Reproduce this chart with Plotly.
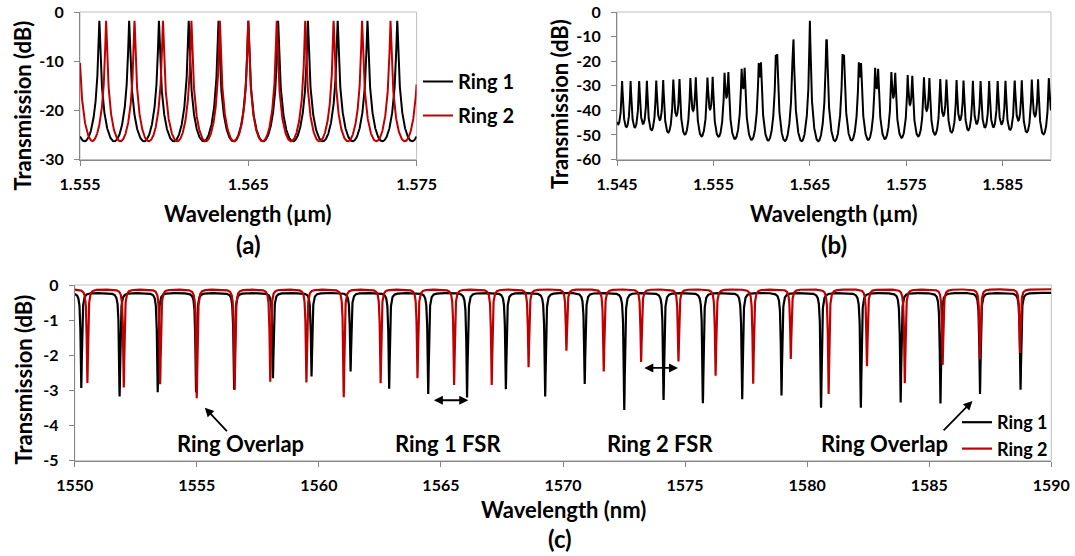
import numpy as np
import plotly.graph_objects as go

W, H = 1075, 556
FONT = "Lato"
BLACK = "#000000"
RED = "#C00000"
AXIS_GRAY = "#868686"
BOX_GRAY = "#BFBFBF"

# ---------------- data ----------------
# (a)/(b): drop-port resonance wavelengths of each ring (um)
RING1_RES_UM = [1.54376, 1.54553, 1.54730, 1.54907, 1.55084, 1.55261, 1.55438,
                1.55615, 1.55792, 1.55969, 1.56146, 1.56323, 1.56500, 1.56677,
                1.56854, 1.57031, 1.57208, 1.57385, 1.57562, 1.57739, 1.57916,
                1.58093, 1.58270, 1.58447, 1.58624, 1.58801, 1.58978, 1.59155]
RING2_RES_UM = [1.54303, 1.54472, 1.54641, 1.54810, 1.54979, 1.55148, 1.55317,
                1.55492, 1.55655, 1.55824, 1.55993, 1.56162, 1.56331, 1.56500,
                1.56669, 1.56838, 1.57007, 1.57176, 1.57345, 1.57514, 1.57683,
                1.57852, 1.58021, 1.58190, 1.58359, 1.58528, 1.58697, 1.58866,
                1.59035]
PEAK_DB = -1.8      # resonance peak level (dB)
FLOOR_DB = -26.3    # off-resonance floor (dB)

# (c): measured through-port dips (nm) and their depths (dB)
RING1_DIPS_NM = [1550.27, 1551.84, 1553.40, 1554.97, 1556.53, 1558.12, 1559.70,
                 1561.30, 1562.88, 1564.48, 1566.07, 1567.66, 1569.27, 1570.89,
                 1572.51, 1574.12, 1575.73, 1577.34, 1578.95, 1580.57, 1582.20,
                 1583.83, 1585.46, 1587.08, 1588.74]
RING1_DEPTH_DB = [-2.93, -3.17, -3.05, -3.05, -2.98, -2.65, -2.60,
                  -2.46, -2.95, -3.10, -3.20, -2.96, -3.17, -2.81,
                  -3.55, -3.27, -3.36, -3.25, -3.14, -3.49, -3.49,
                  -3.34, -3.37, -3.10, -2.98]
RING2_DIPS_NM = [1550.52, 1552.01, 1553.50, 1555.00, 1556.55, 1558.01, 1559.49,
                 1561.02, 1562.53, 1564.04, 1565.54, 1567.08, 1568.59, 1570.14,
                 1571.67, 1573.20, 1574.73, 1576.25, 1577.79, 1579.33, 1580.88,
                 1582.45, 1584.00, 1585.55, 1587.08, 1588.72]
RING2_DEPTH_DB = [-2.79, -2.91, -2.82, -3.22, -2.98, -2.75, -2.77,
                  -3.19, -2.79, -2.65, -2.84, -2.84, -2.34, -1.87,
                  -2.46, -2.19, -2.17, -2.58, -2.81, -2.10, -3.10,
                  -2.31, -2.79, -2.27, -2.12, -1.93]
RING1_BASE_DB = -0.22
RING2_BASE_DB = -0.12
DIP_HWHM_NM = 0.03

X_TICKS_A = [1.555, 1.565, 1.575]
X_TICKS_B = [1.545, 1.555, 1.565, 1.575, 1.585]
X_TICKS_C = [1550, 1555, 1560, 1565, 1570, 1575, 1580, 1585, 1590]
Y_TICKS_A = [0, -10, -20, -30]
Y_TICKS_B = [0, -10, -20, -30, -40, -50, -60]
Y_TICKS_C = [0, -1, -2, -3, -4, -5]


# ---------------- line shapes ----------------
def drop_port_db(lam, res):
    res = np.asarray(res)
    fsr = np.mean(np.diff(res))
    idx = np.abs(lam[:, None] - res[None, :]).argmin(axis=1)
    d = lam - res[idx]
    F = 10 ** ((PEAK_DB - FLOOR_DB) / 10) - 1
    return PEAK_DB - 10 * np.log10(1 + F * np.sin(np.pi * d / fsr) ** 2)


def through_port_db(lam, centers, depths, base):
    y = np.full_like(lam, base)
    for c, dep in zip(centers, depths):
        y += (dep - base) * DIP_HWHM_NM ** 2 / ((lam - c) ** 2 + DIP_HWHM_NM ** 2)
    return y


def grid(a, b, n, extra):
    g = np.linspace(a, b, n)
    e = np.asarray([v for v in extra if a <= v <= b])
    return np.unique(np.concatenate([g, e]))


lam_a = grid(1.555, 1.575, 4001, RING1_RES_UM + RING2_RES_UM)
lam_b = grid(1.545, 1.590, 9001, RING1_RES_UM + RING2_RES_UM)
lam_c = grid(1550, 1590, 10001, RING1_DIPS_NM + RING2_DIPS_NM)

a1 = drop_port_db(lam_a, RING1_RES_UM)
a2 = drop_port_db(lam_a, RING2_RES_UM)
b = drop_port_db(lam_b, RING1_RES_UM) + drop_port_db(lam_b, RING2_RES_UM)
c1 = through_port_db(lam_c, RING1_DIPS_NM, RING1_DEPTH_DB, RING1_BASE_DB)
c2 = through_port_db(lam_c, RING2_DIPS_NM, RING2_DEPTH_DB, RING2_BASE_DB)

fig = go.Figure()
fig.add_trace(go.Scatter(x=lam_a, y=a1, mode="lines", name="Ring 1",
                         line=dict(color=BLACK, width=2), xaxis="x", yaxis="y",
                         legend="legend", legendgroup="a1"))
fig.add_trace(go.Scatter(x=lam_a, y=a2, mode="lines", name="Ring 2",
                         line=dict(color=RED, width=2), xaxis="x", yaxis="y",
                         legend="legend", legendgroup="a2"))
fig.add_trace(go.Scatter(x=lam_b, y=b, mode="lines", name="Cascade",
                         line=dict(color=BLACK, width=2), xaxis="x2", yaxis="y2",
                         showlegend=False))
fig.add_trace(go.Scatter(x=lam_c, y=c1, mode="lines", name="Ring 1",
                         line=dict(color=BLACK, width=2.2), xaxis="x3", yaxis="y3",
                         legend="legend2", legendgroup="c1"))
fig.add_trace(go.Scatter(x=lam_c, y=c2, mode="lines", name="Ring 2",
                         line=dict(color=RED, width=2.2), xaxis="x3", yaxis="y3",
                         legend="legend2", legendgroup="c2"))

tickfont = dict(family=FONT, size=16, color="black", weight="bold")


def xa(dom, rng, ticks, fmt, anchor):
    return dict(domain=dom, range=rng, anchor=anchor, showline=True, linecolor=AXIS_GRAY,
                linewidth=1, ticks="outside", ticklen=5, tickcolor=AXIS_GRAY,
                showgrid=False, zeroline=False, tickvals=ticks, automargin=False,
                ticktext=[fmt.format(t) for t in ticks], tickfont=tickfont,
                ticklabelstandoff=5)


def ya(dom, rng, ticks, anchor):
    return dict(domain=dom, range=rng, anchor=anchor, showline=True, linecolor=AXIS_GRAY,
                linewidth=1, ticks="outside", ticklen=5, tickcolor=AXIS_GRAY,
                showgrid=False, zeroline=False, tickvals=ticks, automargin=False,
                ticktext=[str(t) for t in ticks], tickfont=tickfont,
                ticklabelstandoff=7)


ya_dom = [1 - 159.5 / H, 1 - 12 / H]
fig.update_layout(
    width=W, height=H, margin=dict(l=0, r=0, t=0, b=0, autoexpand=False), autosize=False,
    paper_bgcolor="white", plot_bgcolor="white",
    font=dict(family=FONT, color="black"),
    xaxis=xa([80 / W, 416.6 / W], [1.555, 1.575], X_TICKS_A, "{:.3f}", "y"),
    yaxis=ya(ya_dom, [-30, 0], Y_TICKS_A, "x"),
    xaxis2=xa([617 / W, 1051 / W], [1.545, 1.590], X_TICKS_B, "{:.3f}", "y2"),
    yaxis2=ya(ya_dom, [-60, 0], Y_TICKS_B, "x2"),
    xaxis3=xa([74.7 / W, 1051.3 / W], [1550, 1590], X_TICKS_C, "{:d}", "y3"),
    yaxis3=ya([1 - 460.7 / H, 1 - 285 / H], [-5, 0], Y_TICKS_C, "x3"),
    legend=dict(x=418 / W, y=1 - 62 / H, xanchor="left", yanchor="top",
                bgcolor="rgba(0,0,0,0)", tracegroupgap=5,
                font=dict(family=FONT, size=20, color="black", weight="bold")),
    legend2=dict(x=957 / W, y=1 - 404 / H, xanchor="left", yanchor="top",
                 bgcolor="rgba(0,0,0,0)", tracegroupgap=0,
                 font=dict(family=FONT, size=18, color="black", weight="bold")),
)

shapes = []
for xr, yr in [("x", "y"), ("x2", "y2"), ("x3", "y3")]:
    shapes.append(dict(type="rect", xref=xr + " domain", yref=yr + " domain",
                       x0=0, x1=1, y0=0, y1=1, line=dict(color=BOX_GRAY, width=1),
                       layer="below"))
fig.update_layout(shapes=shapes)


def pann(txt, x, y, size=22, angle=0):
    return dict(text=txt, x=x / W, y=1 - y / H, xref="paper", yref="paper",
                showarrow=False, textangle=angle, xanchor="center", yanchor="middle",
                font=dict(family=FONT, size=size, color="black", weight="bold"))


ann = [
    pann("Transmission (dB)", 21.5, 106, 22, -90),
    pann("Transmission (dB)", 560, 104, 22, -90),
    pann("Transmission (dB)", 22.5, 380, 22, -90),
    pann("Wavelength (µm)", 248.3, 213, 22),
    pann("Wavelength (µm)", 834, 213, 22),
    pann("Wavelength (nm)", 563, 509, 22),
    pann("(a)", 248.3, 245, 24),
    pann("(b)", 834, 245, 24),
    pann("(c)", 560, 538, 24),
]
lab = dict(family=FONT, size=22, color="black", weight="bold")
for txt, x in [("Ring Overlap", 1556.78), ("Ring 1 FSR", 1565.28),
               ("Ring 2 FSR", 1573.98), ("Ring Overlap", 1583.15)]:
    ann.append(dict(text=txt, x=x, y=-4.52, xref="x3", yref="y3", showarrow=False,
                    font=lab))
# arrows
arrow = dict(text="", xref="x3", yref="y3", axref="x3", ayref="y3", showarrow=True,
             arrowhead=2, arrowsize=1, arrowwidth=1.8, arrowcolor="black")
ann.append(dict(arrow, x=1555.33, y=-3.49, ax=1556.29, ay=-4.20))
ann.append(dict(arrow, x=1586.77, y=-3.30, ax=1585.53, ay=-4.18))
ann.append(dict(arrow, x=1566.12, y=-3.28, ax=1564.65, ay=-3.28,
                startarrowhead=2, arrowside="end+start"))
ann.append(dict(arrow, x=1574.71, y=-2.36, ax=1573.27, ay=-2.36,
                startarrowhead=2, arrowside="end+start"))
fig.update_layout(annotations=ann)

fig.write_html("out.html", config={"displayModeBar": False},
               post_script="document.body.style.margin='0';")
